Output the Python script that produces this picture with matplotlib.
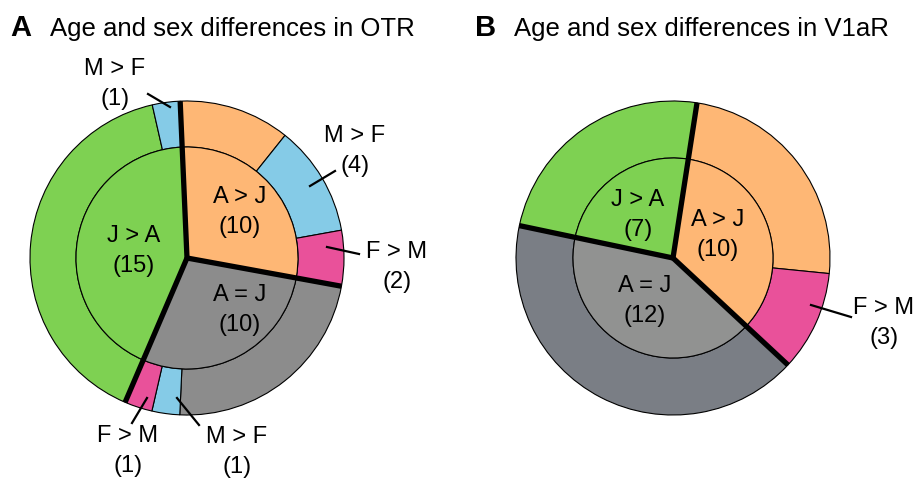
import matplotlib.pyplot as plt
import numpy as np

plt.rcParams['font.family'] = ['Liberation Sans', 'DejaVu Sans']

# panel A: OTR
otr_inner_labels = ['A > J', 'A = J', 'J > A']
otr_inner = [10, 10, 15]
otr_outer = [4, 4, 2, 8, 1, 1, 14, 1]
otr_outer_kind = ['age', 'M>F', 'F>M', 'none', 'M>F', 'F>M', 'age', 'M>F']
otr_outer_group = [0, 0, 0, 1, 1, 1, 2, 2]

# panel B: V1aR
v1ar_inner_labels = ['A > J', 'A = J', 'J > A']
v1ar_inner = [10, 12, 7]
v1ar_outer = [7, 3, 12, 7]
v1ar_outer_kind = ['age', 'F>M', 'none', 'age']
v1ar_outer_group = [0, 0, 1, 2]

green = '#7ed152'
orange = '#feb775'
blue = '#85cbe7'
pink = '#e9519a'


def flip(y):
    return 479 - y


fig = plt.figure(figsize=(9.19, 4.79), dpi=100)
ax = fig.add_axes([0, 0, 1, 1])


def ring_pie(center, r_out, r_in, start, inner, outer, kinds, groups, group_cols, none_col, inner_cols):
    outer_cols = []
    for k, g in zip(kinds, groups):
        if k == 'M>F':
            outer_cols.append(blue)
        elif k == 'F>M':
            outer_cols.append(pink)
        elif k == 'none':
            outer_cols.append(none_col)
        else:
            outer_cols.append(group_cols[g])
    ax.pie(outer, radius=r_out, center=center, startangle=start, counterclock=False,
           colors=outer_cols, wedgeprops=dict(width=r_out - r_in, edgecolor='black', linewidth=0.8))
    ax.pie(inner, radius=r_in, center=center, startangle=start, counterclock=False,
           colors=inner_cols, wedgeprops=dict(edgecolor='black', linewidth=0.8))
    # thick separators between the age groups
    bounds = np.concatenate([[0], np.cumsum(inner)[:-1]]) / np.sum(inner) * 360
    for b in bounds:
        a = np.deg2rad(start - b)
        ax.plot([center[0], center[0] + r_out * np.cos(a)],
                [center[1], center[1] + r_out * np.sin(a)],
                color='black', lw=3.8, solid_capstyle='butt', zorder=5)


# A
ring_pie((187, flip(258)), 157, 111, 92.5, otr_inner, otr_outer, otr_outer_kind, otr_outer_group,
         [orange, '#8c8c8c', green], '#8c8c8c', [orange, '#8c8c8c', green])
# B
ring_pie((673, flip(258)), 157, 100, 81.2, v1ar_inner, v1ar_outer, v1ar_outer_kind, v1ar_outer_group,
         [orange, '#7a7e85', green], '#7a7e85', [orange, '#919291', green])

ax.set_xlim(0, 919)
ax.set_ylim(0, 479)
ax.axis('off')

# titles
ax.text(10, flip(36), 'A', fontsize=21, fontweight='bold', ha='left', va='baseline')
ax.text(50, flip(36), 'Age and sex differences in OTR', fontsize=18.5, ha='left', va='baseline')
ax.text(475, flip(36), 'B', fontsize=21, fontweight='bold', ha='left', va='baseline')
ax.text(514, flip(36), 'Age and sex differences in V1aR', fontsize=18.5, ha='left', va='baseline')

lab = dict(fontsize=17, ha='center', va='center', linespacing=1.45, zorder=6)

# inner labels
ax.text(134, flip(251), 'J > A\n(15)', **lab)
ax.text(240, flip(212), 'A > J\n(10)', **lab)
ax.text(240, flip(310), 'A = J\n(10)', **lab)
ax.text(638, flip(215), 'J > A\n(7)', **lab)
ax.text(718, flip(235), 'A > J\n(10)', **lab)
ax.text(645, flip(301), 'A = J\n(12)', **lab)

# outer labels with leader lines
ax.text(115, flip(84), 'M > F\n(1)', **lab)
ax.text(355, flip(151), 'M > F\n(4)', **lab)
ax.text(397, flip(267), 'F > M\n(2)', **lab)
ax.text(128, flip(451), 'F > M\n(1)', **lab)
ax.text(237, flip(452), 'M > F\n(1)', **lab)
ax.text(884, flip(323), 'F > M\n(3)', **lab)

leaders = [((148, 94), (170, 107)),
           ((310, 186), (335, 171)),
           ((327, 247), (359, 254)),
           ((147, 398), (132, 423)),
           ((177, 398), (199, 425)),
           ((811, 305), (851, 317))]
for (x0, y0), (x1, y1) in leaders:
    ax.plot([x0, x1], [flip(y0), flip(y1)], color='black', lw=1.6, zorder=6)

plt.savefig('out.png', dpi=100)
